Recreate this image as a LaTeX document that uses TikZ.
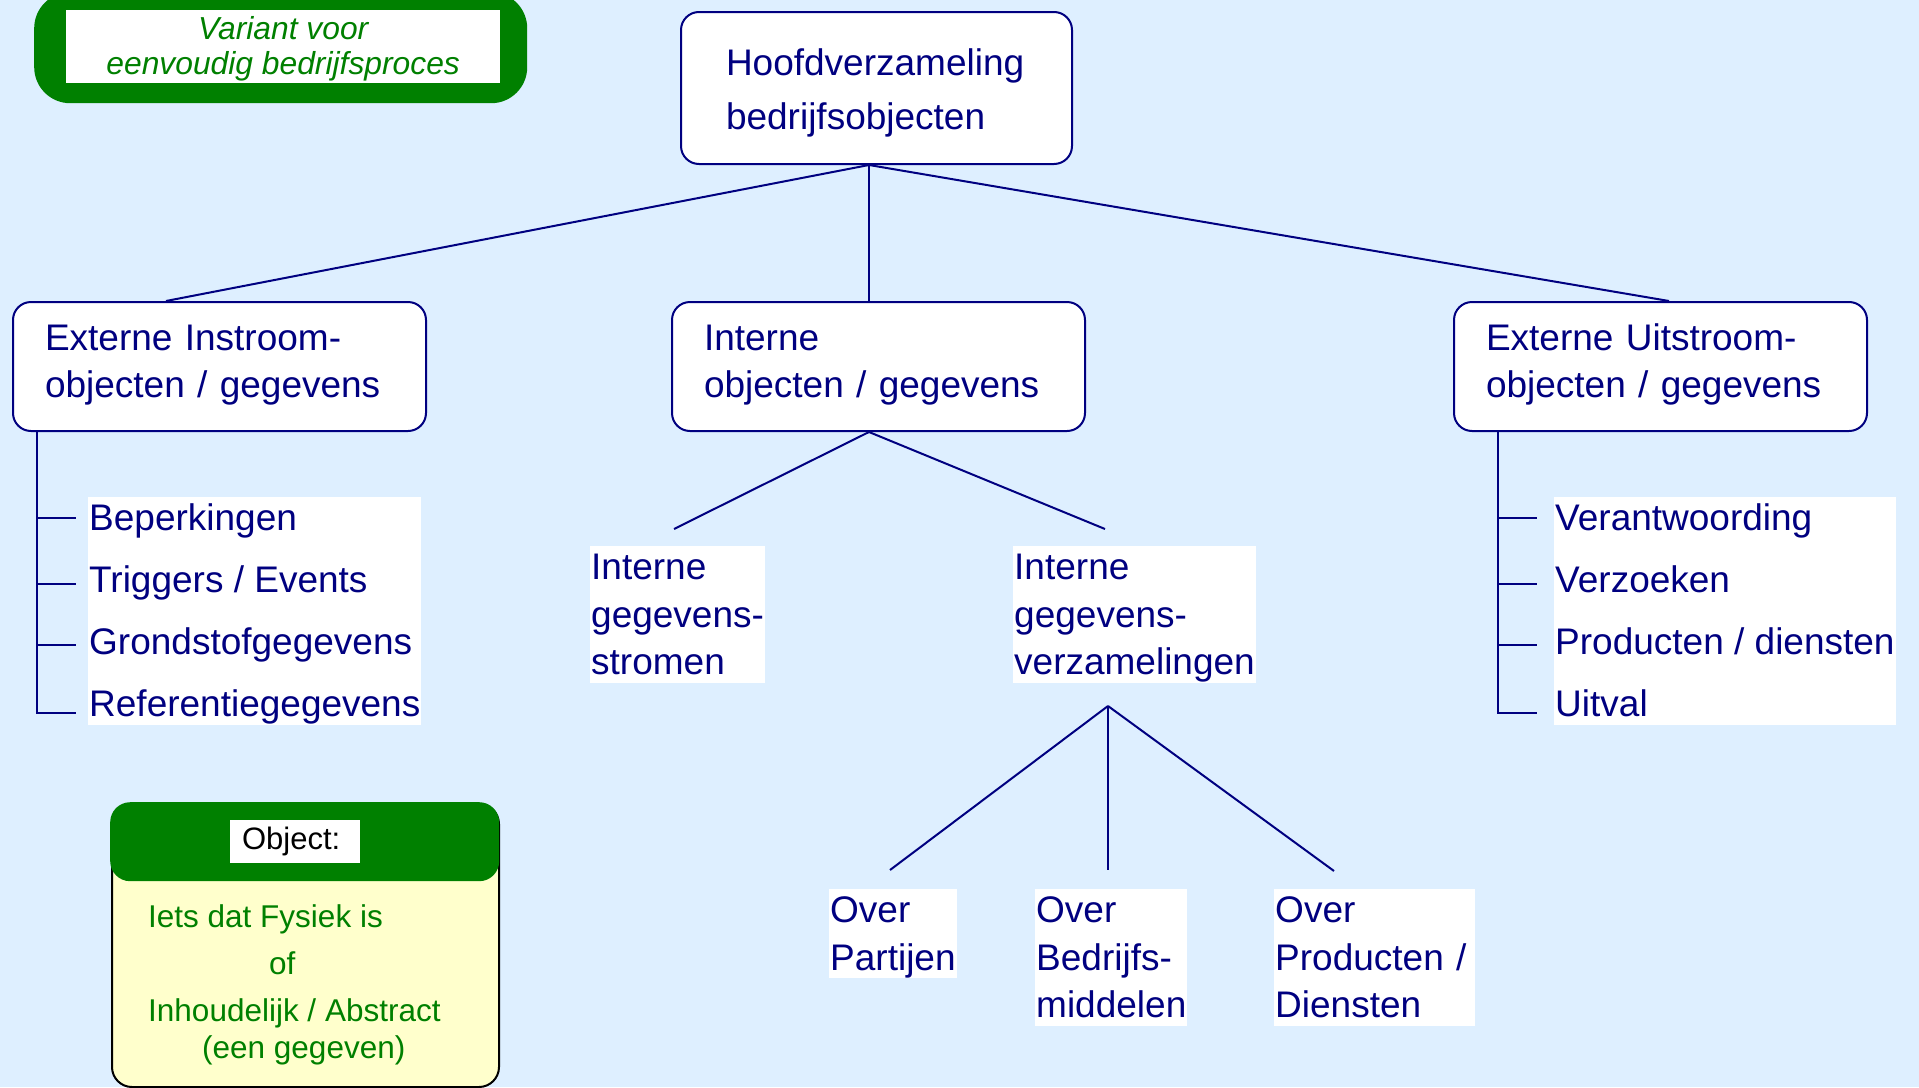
\documentclass[tikz,border=0pt]{standalone}
\usepackage{fontspec}
\setmainfont{Liberation Sans}
\usetikzlibrary{calc}
\definecolor{bgblue}{RGB}{222,239,255}
\definecolor{navy}{RGB}{0,0,128}
\definecolor{dkgreen}{RGB}{0,128,0}
\definecolor{paleyellow}{RGB}{255,255,204}
\newcommand{\asc}{\rule{0pt}{33.5pt}}
\newcommand{\dsc}{\rule[-7.8pt]{0pt}{7.8pt}}
\newcommand{\dscb}{\rule[-18pt]{0pt}{18pt}}
\newcommand{\sasc}{\rule{0pt}{28pt}}
\newcommand{\sdsc}{\rule[-6.6pt]{0pt}{6.6pt}}
\begin{document}
\begin{tikzpicture}[x=1pt,y=-1pt,
  conn/.style={draw=navy, line width=2pt},
  mainbox/.style={draw=navy, line width=2pt, fill=white, rounded corners=18pt, text=navy, align=left, anchor=north west, inner ysep=0pt},
  lvlbox/.style={mainbox, minimum width=413pt, minimum height=129pt, text width=349pt, inner xsep=32pt, font=\fontsize{37}{47}\selectfont},
  listtxt/.style={fill=white, text=navy, align=left, anchor=north west, inner xsep=1pt, inner ysep=0pt, font=\fontsize{37}{62}\selectfont},
  subtxt/.style={fill=white, text=navy, align=left, anchor=north west, inner xsep=1pt, inner ysep=0pt, font=\fontsize{37}{47.5}\selectfont}
]
\useasboundingbox (0,0) rectangle (1919,1087);
\clip (0,0) rectangle (1919,1087);
\fill[bgblue] (0,0) rectangle (1919,1087);

% Variant label
\node[fill=dkgreen, rounded corners=36pt, anchor=north west, minimum width=493pt, minimum height=111pt, inner sep=0pt] (varframe) at (34,-8) {};
\node[fill=white, anchor=north west, minimum width=434pt, minimum height=73pt, inner sep=0pt, align=center, text=dkgreen, font=\itshape\fontsize{31.8}{35}\selectfont] (variant) at (66,10) {\sasc Variant voor\\eenvoudig bedrijfsproces\sdsc};

% Top box
\node[mainbox, minimum width=391pt, minimum height=152pt, text width=301pt, inner xsep=45pt, font=\fontsize{37}{54}\selectfont] (top) at (680,11) {\rule{0pt}{36pt}Hoofdverzameling\\bedrijfsobjecten\dsc};

% Level 2 boxes
\node[lvlbox] (lb) at (12,301) {\asc Externe Instroom-\\objecten / gegevens\dscb};
\node[lvlbox] (mb) at (671,301) {\asc Interne\\objecten / gegevens\dscb};
\node[lvlbox] (rb) at (1453,301) {\asc Externe Uitstroom-\\objecten / gegevens\dscb};

% Lists
\node[listtxt] (inlist) at (88,497) {\asc Beperkingen\\Triggers / Events\\Grondstofgegevens\\Referentiegegevens\dsc};
\node[listtxt] (outlist) at (1554,497) {\asc Verantwoording\\Verzoeken\\Producten / diensten\\Uitval\dsc};

% Internal sub nodes
\node[subtxt] (igs) at (590,546) {\asc Interne\\gegevens-\\stromen\dsc};
\node[subtxt] (igv) at (1013,546) {\asc Interne\\gegevens-\\verzamelingen\dsc};
\node[subtxt] (ovp) at (829,889) {\asc Over\\Partijen\dsc};
\node[subtxt] (ovb) at (1035,889) {\asc Over\\Bedrijfs-\\middelen\dsc};
\node[subtxt, text width=199pt] (ovd) at (1274,889) {\asc Over\\Producten /\\Diensten\dsc};

% Object box
\node[draw=black, line width=2pt, fill=paleyellow, rounded corners=20pt, anchor=north west, minimum width=387pt, minimum height=283pt, inner sep=0pt] (objbox) at (111,803) {};
\node[fill=dkgreen, rounded corners=20pt, anchor=north west, minimum width=389pt, minimum height=79pt, inner sep=0pt] (objhead) at (110,802) {};
\node[fill=white, anchor=north west, minimum width=130pt, minimum height=43pt, inner sep=0pt, font=\fontsize{31}{35}\selectfont] (objlabel) at (230,820) {Object:\hspace*{8pt}};
\node[anchor=north west, align=left, inner sep=0pt, text=dkgreen, font=\fontsize{31.5}{47}\selectfont] (objtext) at (148,899) {\sasc Iets dat Fysiek is\\\hspace*{121pt}of\\Inhoudelijk / Abstract\\[-10pt]\hspace*{54pt}(een gegeven)};

% Connector end points
\coordinate (topout) at ($(top.south)+(-7.5,0)$);
\coordinate (lbin) at ($(lb.north)+(-53.5,0)$);
\coordinate (mbin) at ($(mb.north)+(-9.5,0)$);
\coordinate (rbin) at ($(rb.north)+(8.5,0)$);
\coordinate (mbout) at ($(mb.south)+(-9.5,0)$);
\coordinate (igsin) at (674,529);
\coordinate (igvin) at (1105,529);
\coordinate (apex) at (1108,706);
\coordinate (ovpin) at (890,870);
\coordinate (ovbin) at (1108,870);
\coordinate (ovdin) at (1334,871);

\coordinate (lt) at ($(lb.south west)+(25,0)$);
\coordinate (lv1) at (37,518); \coordinate (lh1) at (76,518);
\coordinate (lv2) at (37,584); \coordinate (lh2) at (76,584);
\coordinate (lv3) at (37,645); \coordinate (lh3) at (76,645);
\coordinate (lv4) at (37,713); \coordinate (lh4) at (76,713);

\coordinate (rt) at ($(rb.south west)+(45,0)$);
\coordinate (rv1) at (1498,518); \coordinate (rh1) at (1537,518);
\coordinate (rv2) at (1498,584); \coordinate (rh2) at (1537,584);
\coordinate (rv3) at (1498,645); \coordinate (rh3) at (1537,645);
\coordinate (rv4) at (1498,713); \coordinate (rh4) at (1537,713);

% Connectors
\draw[conn] (topout) -- (lbin);
\draw[conn] (topout) -- (mbin);
\draw[conn] (topout) -- (rbin);
\draw[conn] (mbout) -- (igsin);
\draw[conn] (mbout) -- (igvin);
\draw[conn] (apex) -- (ovpin);
\draw[conn] (apex) -- (ovbin);
\draw[conn] (apex) -- (ovdin);

\draw[conn] (lt) -- (lv4) -- (lh4);
\draw[conn] (lv1) -- (lh1);
\draw[conn] (lv2) -- (lh2);
\draw[conn] (lv3) -- (lh3);

\draw[conn] (rt) -- (rv4) -- (rh4);
\draw[conn] (rv1) -- (rh1);
\draw[conn] (rv2) -- (rh2);
\draw[conn] (rv3) -- (rh3);
\end{tikzpicture}
\end{document}
